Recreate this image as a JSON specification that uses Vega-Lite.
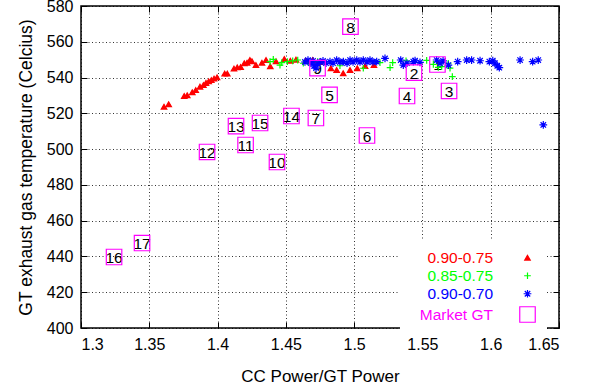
{
  "$schema": "https://vega.github.io/schema/vega-lite/v6.json",
  "width": 478,
  "height": 322,
  "autosize": "none",
  "padding": {"left": 81, "top": 6, "right": 32, "bottom": 59},
  "background": "white",
  "config": {
    "view": {"stroke": "black", "strokeWidth": 1.5},
    "font": "Liberation Sans",
    "axis": {
      "domain": false,
      "labelFont": "Liberation Sans",
      "labelFontSize": 16,
      "labelColor": "black",
      "titleFont": "Liberation Sans",
      "titleFontSize": 17.5,
      "titleFontWeight": "normal",
      "titleColor": "black",
      "tickColor": "black",
      "tickSize": -6,
      "tickWidth": 1,
      "gridColor": "black",
      "gridDash": [1, 2.5],
      "gridOpacity": 0.8,
      "gridWidth": 1
    },
    "legend": {
      "orient": "none",
      "legendX": 319,
      "legendY": 235,
      "fillColor": "white",
      "padding": 9,
      "labelFont": "Liberation Sans",
      "labelFontSize": 15.5,
      "labelAlign": "right",
      "labelOffset": -43,
      "symbolOffset": 110,
      "rowPadding": 1,
      "symbolStrokeWidth": 1.2
    }
  },
  "data": {
    "values": [
      {"x": 1.3608, "y": 523.7, "s": "0.90-0.75"},
      {"x": 1.3642, "y": 525.1, "s": "0.90-0.75"},
      {"x": 1.3756, "y": 529.7, "s": "0.90-0.75"},
      {"x": 1.3778, "y": 530.1, "s": "0.90-0.75"},
      {"x": 1.3815, "y": 531.8, "s": "0.90-0.75"},
      {"x": 1.384, "y": 533.0, "s": "0.90-0.75"},
      {"x": 1.3871, "y": 534.9, "s": "0.90-0.75"},
      {"x": 1.3896, "y": 535.8, "s": "0.90-0.75"},
      {"x": 1.3915, "y": 537.0, "s": "0.90-0.75"},
      {"x": 1.3935, "y": 537.9, "s": "0.90-0.75"},
      {"x": 1.3954, "y": 538.6, "s": "0.90-0.75"},
      {"x": 1.3974, "y": 539.4, "s": "0.90-0.75"},
      {"x": 1.3996, "y": 540.1, "s": "0.90-0.75"},
      {"x": 1.4052, "y": 542.2, "s": "0.90-0.75"},
      {"x": 1.4071, "y": 542.2, "s": "0.90-0.75"},
      {"x": 1.412, "y": 545.0, "s": "0.90-0.75"},
      {"x": 1.4144, "y": 545.7, "s": "0.90-0.75"},
      {"x": 1.4169, "y": 545.9, "s": "0.90-0.75"},
      {"x": 1.4196, "y": 548.0, "s": "0.90-0.75"},
      {"x": 1.4216, "y": 548.3, "s": "0.90-0.75"},
      {"x": 1.4237, "y": 549.8, "s": "0.90-0.75"},
      {"x": 1.4252, "y": 549.1, "s": "0.90-0.75"},
      {"x": 1.4281, "y": 547.0, "s": "0.90-0.75"},
      {"x": 1.4325, "y": 548.3, "s": "0.90-0.75"},
      {"x": 1.4355, "y": 549.8, "s": "0.90-0.75"},
      {"x": 1.4386, "y": 546.3, "s": "0.90-0.75"},
      {"x": 1.4428, "y": 549.1, "s": "0.90-0.75"},
      {"x": 1.4489, "y": 550.4, "s": "0.90-0.75"},
      {"x": 1.4533, "y": 549.4, "s": "0.90-0.75"},
      {"x": 1.4574, "y": 550.0, "s": "0.90-0.75"},
      {"x": 1.4645, "y": 549.3, "s": "0.90-0.75"},
      {"x": 1.4697, "y": 549.8, "s": "0.90-0.75"},
      {"x": 1.475, "y": 548.7, "s": "0.90-0.75"},
      {"x": 1.483, "y": 545.2, "s": "0.90-0.75"},
      {"x": 1.4872, "y": 544.2, "s": "0.90-0.75"},
      {"x": 1.492, "y": 542.4, "s": "0.90-0.75"},
      {"x": 1.497, "y": 544.2, "s": "0.90-0.75"},
      {"x": 1.5023, "y": 545.2, "s": "0.90-0.75"},
      {"x": 1.508, "y": 546.5, "s": "0.90-0.75"},
      {"x": 1.5145, "y": 547.0, "s": "0.90-0.75"},
      {"x": 1.4384, "y": 548.9, "s": "0.85-0.75"},
      {"x": 1.4408, "y": 550.2, "s": "0.85-0.75"},
      {"x": 1.4457, "y": 547.0, "s": "0.85-0.75"},
      {"x": 1.447, "y": 548.3, "s": "0.85-0.75"},
      {"x": 1.4511, "y": 548.9, "s": "0.85-0.75"},
      {"x": 1.455, "y": 549.3, "s": "0.85-0.75"},
      {"x": 1.4587, "y": 549.8, "s": "0.85-0.75"},
      {"x": 1.4628, "y": 548.0, "s": "0.85-0.75"},
      {"x": 1.4664, "y": 548.5, "s": "0.85-0.75"},
      {"x": 1.4733, "y": 548.9, "s": "0.85-0.75"},
      {"x": 1.4896, "y": 546.6, "s": "0.85-0.75"},
      {"x": 1.5067, "y": 545.2, "s": "0.85-0.75"},
      {"x": 1.5189, "y": 548.3, "s": "0.85-0.75"},
      {"x": 1.5263, "y": 545.5, "s": "0.85-0.75"},
      {"x": 1.5282, "y": 548.3, "s": "0.85-0.75"},
      {"x": 1.538, "y": 549.4, "s": "0.85-0.75"},
      {"x": 1.5531, "y": 549.6, "s": "0.85-0.75"},
      {"x": 1.558, "y": 547.4, "s": "0.85-0.75"},
      {"x": 1.5616, "y": 545.7, "s": "0.85-0.75"},
      {"x": 1.5641, "y": 546.1, "s": "0.85-0.75"},
      {"x": 1.5689, "y": 548.0, "s": "0.85-0.75"},
      {"x": 1.5702, "y": 545.3, "s": "0.85-0.75"},
      {"x": 1.5719, "y": 540.5, "s": "0.85-0.75"},
      {"x": 1.464, "y": 548.7, "s": "0.90-0.70"},
      {"x": 1.4662, "y": 549.8, "s": "0.90-0.70"},
      {"x": 1.4684, "y": 548.1, "s": "0.90-0.70"},
      {"x": 1.4699, "y": 549.3, "s": "0.90-0.70"},
      {"x": 1.4706, "y": 546.5, "s": "0.90-0.70"},
      {"x": 1.4721, "y": 545.3, "s": "0.90-0.70"},
      {"x": 1.4735, "y": 547.6, "s": "0.90-0.70"},
      {"x": 1.475, "y": 548.7, "s": "0.90-0.70"},
      {"x": 1.4772, "y": 549.3, "s": "0.90-0.70"},
      {"x": 1.4794, "y": 548.1, "s": "0.90-0.70"},
      {"x": 1.4823, "y": 548.9, "s": "0.90-0.70"},
      {"x": 1.4845, "y": 548.1, "s": "0.90-0.70"},
      {"x": 1.4872, "y": 549.8, "s": "0.90-0.70"},
      {"x": 1.4896, "y": 548.7, "s": "0.90-0.70"},
      {"x": 1.4921, "y": 548.9, "s": "0.90-0.70"},
      {"x": 1.4948, "y": 548.1, "s": "0.90-0.70"},
      {"x": 1.497, "y": 549.8, "s": "0.90-0.70"},
      {"x": 1.4992, "y": 548.7, "s": "0.90-0.70"},
      {"x": 1.5019, "y": 549.8, "s": "0.90-0.70"},
      {"x": 1.5043, "y": 548.7, "s": "0.90-0.70"},
      {"x": 1.5067, "y": 549.8, "s": "0.90-0.70"},
      {"x": 1.5094, "y": 548.7, "s": "0.90-0.70"},
      {"x": 1.5116, "y": 549.8, "s": "0.90-0.70"},
      {"x": 1.5138, "y": 548.7, "s": "0.90-0.70"},
      {"x": 1.5165, "y": 548.9, "s": "0.90-0.70"},
      {"x": 1.5226, "y": 550.7, "s": "0.90-0.70"},
      {"x": 1.5341, "y": 549.8, "s": "0.90-0.70"},
      {"x": 1.536, "y": 547.0, "s": "0.90-0.70"},
      {"x": 1.5387, "y": 548.1, "s": "0.90-0.70"},
      {"x": 1.5433, "y": 548.9, "s": "0.90-0.70"},
      {"x": 1.5446, "y": 549.4, "s": "0.90-0.70"},
      {"x": 1.5482, "y": 548.5, "s": "0.90-0.70"},
      {"x": 1.5604, "y": 549.8, "s": "0.90-0.70"},
      {"x": 1.5629, "y": 548.0, "s": "0.90-0.70"},
      {"x": 1.5651, "y": 549.3, "s": "0.90-0.70"},
      {"x": 1.569, "y": 547.0, "s": "0.90-0.70"},
      {"x": 1.5758, "y": 548.9, "s": "0.90-0.70"},
      {"x": 1.5824, "y": 549.8, "s": "0.90-0.70"},
      {"x": 1.586, "y": 549.8, "s": "0.90-0.70"},
      {"x": 1.5922, "y": 549.4, "s": "0.90-0.70"},
      {"x": 1.599, "y": 548.9, "s": "0.90-0.70"},
      {"x": 1.6015, "y": 549.4, "s": "0.90-0.70"},
      {"x": 1.6031, "y": 548.0, "s": "0.90-0.70"},
      {"x": 1.6048, "y": 546.6, "s": "0.90-0.70"},
      {"x": 1.6063, "y": 545.5, "s": "0.90-0.70"},
      {"x": 1.6215, "y": 549.8, "s": "0.90-0.70"},
      {"x": 1.6307, "y": 548.9, "s": "0.90-0.70"},
      {"x": 1.6348, "y": 549.8, "s": "0.90-0.70"},
      {"x": 1.6385, "y": 513.5, "s": "0.90-0.70"},
      {"x": 1.561, "y": 547.3, "s": "Market GT", "lab": "1"},
      {"x": 1.5438, "y": 542.8, "s": "Market GT", "lab": "2"},
      {"x": 1.5695, "y": 532.5, "s": "Market GT", "lab": "3"},
      {"x": 1.5387, "y": 529.7, "s": "Market GT", "lab": "4"},
      {"x": 1.482, "y": 530.3, "s": "Market GT", "lab": "5"},
      {"x": 1.5094, "y": 507.6, "s": "Market GT", "lab": "6"},
      {"x": 1.472, "y": 517.4, "s": "Market GT", "lab": "7"},
      {"x": 1.4973, "y": 568.5, "s": "Market GT", "lab": "8"},
      {"x": 1.4732, "y": 545.3, "s": "Market GT", "lab": "9"},
      {"x": 1.4435, "y": 492.8, "s": "Market GT", "lab": "10"},
      {"x": 1.4205, "y": 502.3, "s": "Market GT", "lab": "11"},
      {"x": 1.3923, "y": 498.4, "s": "Market GT", "lab": "12"},
      {"x": 1.4135, "y": 512.9, "s": "Market GT", "lab": "13"},
      {"x": 1.4541, "y": 518.5, "s": "Market GT", "lab": "14"},
      {"x": 1.4311, "y": 514.6, "s": "Market GT", "lab": "15"},
      {"x": 1.3242, "y": 439.7, "s": "Market GT", "lab": "16"},
      {"x": 1.3447, "y": 447.5, "s": "Market GT", "lab": "17"}
    ]
  },
  "layer": [
    {
      "transform": [{"filter": "datum.s == 'Market GT'"}],
      "mark": {"type": "text", "fontSize": 15.5, "font": "Liberation Sans", "fill": "black", "align": "center", "baseline": "middle", "dy": 1},
      "encoding": {
        "x": {"field": "x", "type": "quantitative", "scale": {"domain": [1.3, 1.65], "nice": false, "zero": false},
              "axis": {"orient": "top", "labels": false, "title": null, "grid": false, "values": [1.3, 1.35, 1.4, 1.45, 1.5, 1.55, 1.6, 1.65]}},
        "y": {"field": "y", "type": "quantitative", "scale": {"domain": [400, 580], "nice": false, "zero": false},
              "axis": {"orient": "right", "labels": false, "title": null, "grid": false, "values": [400, 420, 440, 460, 480, 500, 520, 540, 560, 580]}},
        "text": {"field": "lab"}
      }
    },
    {
      "mark": {"type": "point", "opacity": 1, "strokeWidth": 1.2},
      "encoding": {
        "x": {"field": "x", "type": "quantitative", "scale": {"domain": [1.3, 1.65], "nice": false, "zero": false},
              "axis": {"orient": "bottom", "title": "CC Power/GT Power", "titleFontSize": 17, "grid": true, "format": "~g", "labelPadding": 14, "titlePadding": 16, "values": [1.3, 1.35, 1.4, 1.45, 1.5, 1.55, 1.6, 1.65]}},
        "y": {"field": "y", "type": "quantitative", "scale": {"domain": [400, 580], "nice": false, "zero": false},
              "axis": {"orient": "left", "title": "GT exhaust gas temperature (Celcius)", "grid": true, "labelPadding": 14, "titlePadding": 11, "values": [400, 420, 440, 460, 480, 500, 520, 540, 560, 580]}},
        "shape": {"field": "s", "type": "nominal",
                  "scale": {"domain": ["0.90-0.75", "0.85-0.75", "0.90-0.70", "Market GT"],
                            "range": ["triangle-up", "M-1,0L1,0M0,-1L0,1", "M-1,0L1,0M0,-1L0,1M-0.7,-0.7L0.7,0.7M-0.7,0.7L0.7,-0.7", "square"]},
                  "legend": {"title": null, "labelColor": {"expr": "datum.label == '0.90-0.75' ? '#ff0000' : datum.label == '0.85-0.75' ? '#00ff00' : datum.label == '0.90-0.70' ? '#0000ff' : '#ff00ff'"}}},
        "fill": {"field": "s", "type": "nominal",
                 "scale": {"domain": ["0.90-0.75", "0.85-0.75", "0.90-0.70", "Market GT"],
                           "range": ["#ff0000", "transparent", "transparent", "transparent"]},
                 "legend": {"title": null, "labelColor": {"expr": "datum.label == '0.90-0.75' ? '#ff0000' : datum.label == '0.85-0.75' ? '#00ff00' : datum.label == '0.90-0.70' ? '#0000ff' : '#ff00ff'"}}},
        "stroke": {"field": "s", "type": "nominal",
                   "scale": {"domain": ["0.90-0.75", "0.85-0.75", "0.90-0.70", "Market GT"],
                             "range": ["#ff0000", "#00ff00", "#0000ff", "#ff00ff"]},
                   "legend": {"title": null, "labelColor": {"expr": "datum.label == '0.90-0.75' ? '#ff0000' : datum.label == '0.85-0.75' ? '#00ff00' : datum.label == '0.90-0.70' ? '#0000ff' : '#ff00ff'"}}},
        "size": {"field": "s", "type": "nominal",
                 "scale": {"type": "ordinal", "domain": ["0.90-0.75", "0.85-0.75", "0.90-0.70", "Market GT"],
                           "range": [30, 45, 60, 240]},
                 "legend": {"title": null, "labelColor": {"expr": "datum.label == '0.90-0.75' ? '#ff0000' : datum.label == '0.85-0.75' ? '#00ff00' : datum.label == '0.90-0.70' ? '#0000ff' : '#ff00ff'"}}}
      }
    }
  ],
  "resolve": {"axis": {"x": "independent", "y": "independent"}}
}
